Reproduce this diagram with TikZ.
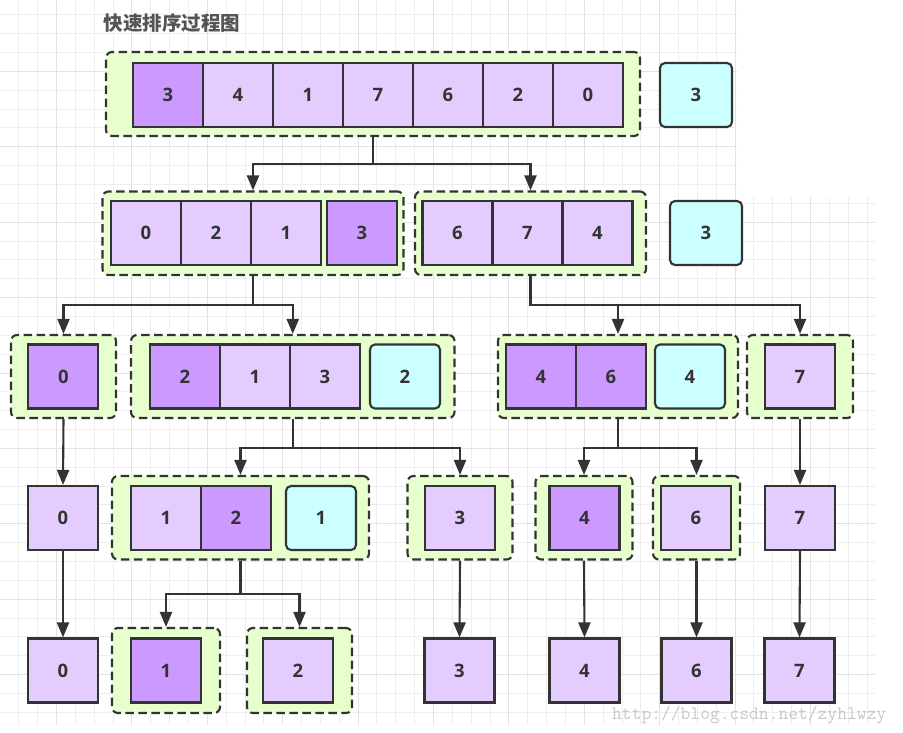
\documentclass[tikz,border=0pt]{standalone}
\usepackage{fontspec}
\newfontfamily\numfont{Open Sans}
\newfontfamily\cjkfont{Noto Sans CJK SC}
\usetikzlibrary{arrows.meta}
\definecolor{linec}{HTML}{333333}
\definecolor{lightp}{HTML}{E5CCFF}
\definecolor{darkp}{HTML}{CC99FF}
\definecolor{keyc}{HTML}{CCFFFF}
\definecolor{groupc}{HTML}{E6FFCC}
\definecolor{titlec}{HTML}{555555}
\definecolor{markc}{HTML}{C8C8C8}
\definecolor{gridc}{HTML}{EEEEEE}
\definecolor{gridd}{HTML}{E2E2E2}
\begin{document}
\begin{tikzpicture}[x=1pt, y=-1pt,
        cell/.style={rectangle, draw=linec, line width=2.1pt, fill=lightp, minimum width=70pt, minimum height=64pt, inner sep=0pt, text=linec, font=\numfont\bfseries\fontsize{18.5}{18.5}\selectfont},
        pivot/.style={cell, fill=darkp},
        keybox/.style={cell, fill=keyc, rounded corners=5pt},
        group/.style={rectangle, draw=linec, line width=2.1pt, dash pattern=on 8.5pt off 4.5pt, fill=groupc, rounded corners=6pt, inner sep=0pt},
        line/.style={draw=linec, line width=2.1pt, -{Triangle[width=12pt,length=15pt]}},
        gridline/.style={draw=gridc, line width=0.8pt}]

    \useasboundingbox (0,0) rectangle (903,732);

    % background grid
    \begin{scope}
        \clip (0,0) -| (737,197) -| (875,725) -| (0,0);
        \foreach \i in {0,...,46} \draw[gridline] (18.7+18.85*\i,0) -- ++(0,732);
        \foreach \j in {0,...,38} \draw[gridline] (0,14.75+18.85*\j) -- ++(903,0);
        \foreach \i in {2,6,...,46} \draw[gridline, draw=gridd] (18.7+18.85*\i,0) -- ++(0,732);
        \foreach \j in {3,7,...,38} \draw[gridline, draw=gridd] (0,14.75+18.85*\j) -- ++(903,0);
    \end{scope}

    \node[anchor=west, text=titlec, font=\cjkfont\bfseries\fontsize{19.5}{19.5}\selectfont] (title) at (100,23) {快速排序过程图};

    % row 1
    \node[group, minimum width=534pt, minimum height=84pt] (g1) at (373,94) {};
    \node[pivot] (r1c1) at (168,95) {3};
    \foreach \v [count=\i from 2] in {4,1,7,6,2,0}
        \node[cell] (r1c\i) at (98+70*\i,95) {\v};
    \node[keybox, minimum width=72pt] (k1) at (696,95) {3};

    % row 2
    \node[group, minimum width=301pt, minimum height=83.5pt] (g2a) at (253,233.25) {};
    \node[group, minimum width=231pt, minimum height=83.5pt] (g2b) at (530.5,233.25) {};
    \node[cell] (r2c1) at (146,233) {0};
    \node[cell] (r2c2) at (216,233) {2};
    \node[cell] (r2c3) at (286,233) {1};
    \node[pivot] (r2c4) at (362,233) {3};
    \node[cell] (r2c5) at (457.5,233) {6};
    \node[cell] (r2c6) at (527.5,233) {7};
    \node[cell] (r2c7) at (597.5,233) {4};
    \node[keybox, minimum width=72pt] (k2) at (706,233) {3};

    % row 3
    \node[group, minimum width=105pt, minimum height=83pt] (g3a) at (63.5,376.5) {};
    \node[group, minimum width=323.5pt, minimum height=83pt] (g3b) at (292.75,376.5) {};
    \node[group, minimum width=240pt, minimum height=83pt] (g3c) at (618,376.5) {};
    \node[group, minimum width=106pt, minimum height=83pt] (g3d) at (800,376.5) {};
    \node[pivot] (r3c1) at (63.3,376.5) {0};
    \node[pivot] (r3c2) at (185,376.5) {2};
    \node[cell] (r3c3) at (255,376.5) {1};
    \node[cell] (r3c4) at (325,376.5) {3};
    \node[keybox] (k3a) at (405,376.5) {2};
    \node[pivot] (r3c5) at (541,376.5) {4};
    \node[pivot] (r3c6) at (611,376.5) {6};
    \node[keybox] (k3b) at (690,376.5) {4};
    \node[cell] (r3c7) at (800,376.5) {7};

    % row 4
    \node[group, minimum width=257pt, minimum height=83.5pt] (g4a) at (240.5,517.75) {};
    \node[group, minimum width=105pt, minimum height=83.5pt] (g4b) at (460,517.75) {};
    \node[group, minimum width=97pt, minimum height=83.5pt] (g4c) at (584,517.75) {};
    \node[group, minimum width=87pt, minimum height=83.5pt] (g4d) at (696.5,517.75) {};
    \node[cell] (r4c1) at (63,518) {0};
    \node[cell] (r4c2) at (166,518) {1};
    \node[pivot] (r4c3) at (236,518) {2};
    \node[keybox] (k4) at (321,518) {1};
    \node[cell] (r4c4) at (460,518) {3};
    \node[pivot] (r4c5) at (584.5,518) {4};
    \node[cell] (r4c6) at (696,518) {6};
    \node[cell] (r4c7) at (800,518) {7};

    % row 5
    \node[group, minimum width=108pt, minimum height=85pt] (g5a) at (166,670.5) {};
    \node[group, minimum width=105pt, minimum height=85pt] (g5b) at (299.5,670.5) {};
    \node[cell] (r5c1) at (63,670.5) {0};
    \node[pivot] (r5c2) at (166,670.5) {1};
    \node[cell] (r5c3) at (298,670.5) {2};
    \node[cell] (r5c4) at (459.5,670.5) {3};
    \node[cell] (r5c5) at (584.5,670.5) {4};
    \node[cell] (r5c6) at (696.5,670.5) {6};
    \node[cell] (r5c7) at (799.5,670.5) {7};

    % connectors
    \path[line] (g1.south) -- ++(0,27) -| (g2a.north);
    \path[line] (g1.south) -- ++(0,27) -| (g2b.north);
    \path[line] (g2a.south) -- ++(0,29.3) -| (g3a.north);
    \path[line] (g2a.south) -- ++(0,29.3) -| (g3b.north);
    \path[line] (g2b.south) -- ++(0,29.3) -| (g3c.north);
    \path[line] (g2b.south) -- ++(0,29.3) -| (g3d.north);
    \path[line] (g3a.south) -- (r4c1.north);
    \path[line] (g3b.south) -- ++(0,29) -| (g4a.north);
    \path[line] (g3b.south) -- ++(0,29) -| (g4b.north);
    \path[line] (g3c.south) -- ++(0,29) -| (g4c.north);
    \path[line] (g3c.south) -- ++(0,29) -| (g4d.north);
    \path[line] (g3d.south) -- (r4c7.north);
    \path[line] (r4c1.south) -- (r5c1.north);
    \path[line] (g4a.south) -- ++(0,33.5) -| (g5a.north);
    \path[line] (g4a.south) -- ++(0,33.5) -| (g5b.north);
    \path[line] (g4b.south) -- (r5c4.north);
    \path[line] (g4c.south) -- (r5c5.north);
    \path[line] (g4d.south) -- (r5c6.north);
    \path[line] (r4c7.south) -- (r5c7.north);

    \node[anchor=base west, inner sep=0pt, text=markc, font=\ttfamily\fontsize{19}{19}\selectfont] (mark) at (612,719) {http://blog.csdn.net/zyhlwzy};
\end{tikzpicture}
\end{document}
